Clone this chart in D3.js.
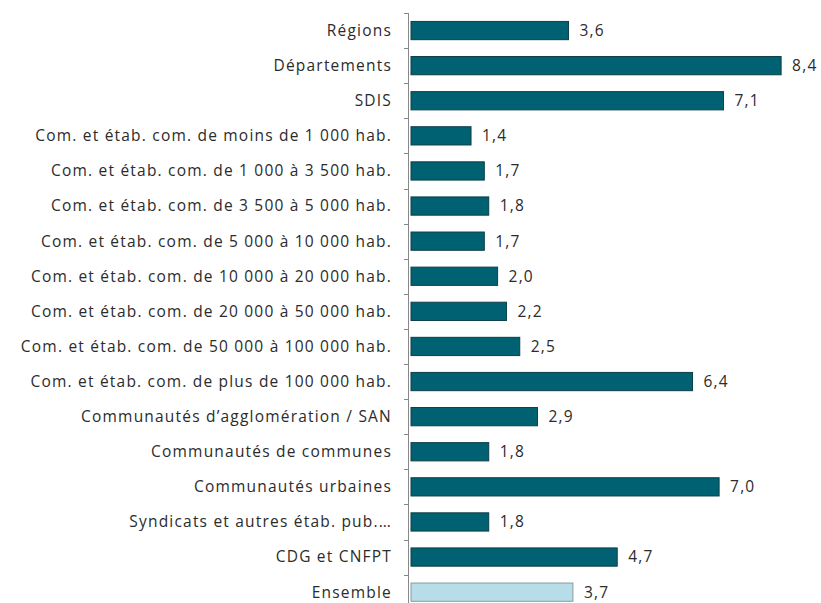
<!DOCTYPE html>
<meta charset="utf-8">
<head>
<style>
  body { margin: 0; background: #fff; }
  .label { font-family: "Open Sans", sans-serif; font-size: 15.5px; letter-spacing: 1.2px; fill: #2b2b2b; }
  .value { font-family: "Open Sans", sans-serif; font-size: 15.5px; letter-spacing: 1.2px; fill: #2b2b2b; }
</style>
<script src="https://d3js.org/d3.v7.min.js"></script>
</head>
<body>
<svg width="821" height="603"></svg>
<script>
var categories = [
  "Régions",
  "Départements",
  "SDIS",
  "Com. et étab. com. de moins de 1 000 hab.",
  "Com. et étab. com. de 1 000 à 3 500 hab.",
  "Com. et étab. com. de 3 500 à 5 000 hab.",
  "Com. et étab. com. de 5 000 à 10 000 hab.",
  "Com. et étab. com. de 10 000 à 20 000 hab.",
  "Com. et étab. com. de 20 000 à 50 000 hab.",
  "Com. et étab. com. de 50 000 à 100 000 hab.",
  "Com. et étab. com. de plus de 100 000 hab.",
  "Communautés d\u2019agglomération / SAN",
  "Communautés de communes",
  "Communautés urbaines",
  "Syndicats et autres étab. pub.…",
  "CDG et CNFPT",
  "Ensemble"
];
var values = [3.6, 8.4, 7.1, 1.4, 1.7, 1.8, 1.7, 2.0, 2.2, 2.5, 6.4, 2.9, 1.8, 7.0, 1.8, 4.7, 3.7];

var svg = d3.select("svg");
var axisX = 408;

var x = d3.scaleLinear().domain([0, 9]).range([409, 409 + 9 * 44.3]);
var y = d3.scaleBand().domain(categories).range([13, 13 + 17 * 35.1]).paddingInner(0.48).paddingOuter(0.24);

// category axis with boundary ticks
var yAxis = svg.append("g");
yAxis.append("line")
    .attr("x1", axisX + 0.5).attr("x2", axisX + 0.5)
    .attr("y1", y.range()[0]).attr("y2", y.range()[1])
    .attr("stroke", "#888").attr("stroke-width", 1);
var step = y.step();
yAxis.selectAll(".tick")
    .data(d3.range(categories.length + 1))
    .enter().append("line")
    .attr("x1", axisX - 4).attr("x2", axisX + 0.5)
    .attr("y1", function(i) { return Math.round(y.range()[0] + i * step) + 0.5; })
    .attr("y2", function(i) { return Math.round(y.range()[0] + i * step) + 0.5; })
    .attr("stroke", "#888");

// labels
svg.selectAll(".label")
    .data(categories)
    .enter().append("text")
    .attr("class", "label")
    .attr("x", 392)
    .attr("y", function(d) { return y(d) + y.bandwidth() / 2; })
    .attr("dy", "0.35em")
    .attr("text-anchor", "end")
    .text(function(d) { return d; });

// bars
svg.selectAll(".bar")
    .data(values)
    .enter().append("rect")
    .attr("x", x(0) + 2)
    .attr("y", function(d, i) { return y(categories[i]); })
    .attr("width", function(d) { return x(d) - x(0) - 2; })
    .attr("height", y.bandwidth())
    .attr("fill", function(d, i) { return categories[i] === "Ensemble" ? "#b7dde8" : "#006172"; })
    .attr("stroke", function(d, i) { return categories[i] === "Ensemble" ? "#8a9a9f" : "#0d3f48"; })
    .attr("stroke-width", 1);

// values
svg.selectAll(".value")
    .data(values)
    .enter().append("text")
    .attr("class", "value")
    .attr("x", function(d) { return x(d) + 11; })
    .attr("y", function(d, i) { return y(categories[i]) + y.bandwidth() / 2; })
    .attr("dy", "0.35em")
    .text(function(d) { return d3.format(".1f")(d).replace(".", ","); });
</script>
</body>
